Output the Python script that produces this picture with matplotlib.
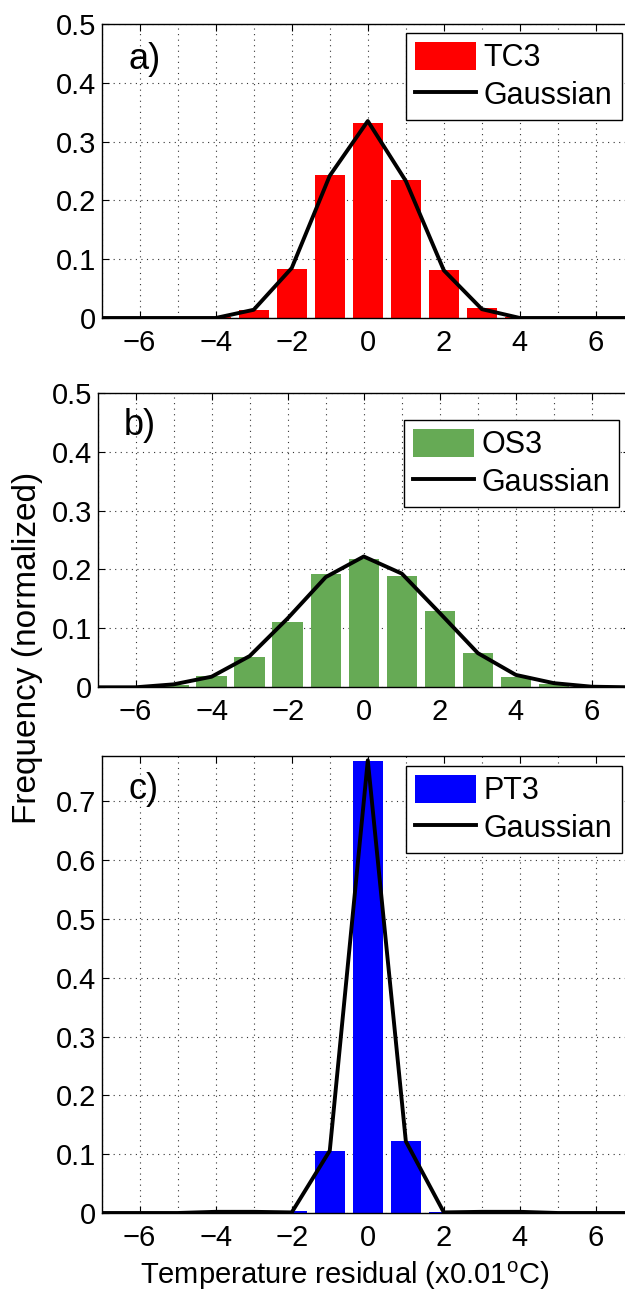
import numpy as np
import matplotlib
matplotlib.use("Agg")
import matplotlib.pyplot as plt
from matplotlib.ticker import MultipleLocator

plt.rcParams['font.family'] = ['Liberation Sans', 'DejaVu Sans']

# bins (x0.01 degC)
bins = [-7, -6, -5, -4, -3, -2, -1, 0, 1, 2, 3, 4, 5, 6, 7]

# a) TC3
tc3_hist = [0, 0, 0, 0.002, 0.013, 0.083, 0.243, 0.332, 0.235, 0.081, 0.017, 0.002, 0, 0, 0]
tc3_gauss = [0, 0, 0, 0.0, 0.014, 0.085, 0.242, 0.335, 0.233, 0.081, 0.015, 0.0, 0, 0, 0]

# b) OS3
os3_hist = [0, 0.001, 0.004, 0.020, 0.052, 0.111, 0.193, 0.218, 0.189, 0.130, 0.059, 0.018, 0.006, 0.001, 0]
os3_gauss = [0, 0.0, 0.005, 0.018, 0.053, 0.117, 0.187, 0.222, 0.193, 0.126, 0.058, 0.021, 0.007, 0.001, 0]

# c) PT3
pt3_hist = [0, 0, 0, 0, 0, 0.003, 0.106, 0.768, 0.122, 0.001, 0, 0, 0, 0, 0]
pt3_gauss = [0, 0, 0, 0.002, 0.002, 0.001, 0.106, 0.770, 0.122, 0.001, 0.002, 0.002, 0, 0, 0]

panels = [
    dict(hist=tc3_hist, gauss=tc3_gauss, name='TC3', color='#ff0000', tag='a)',
         ymax=0.5, yt=np.arange(0, 0.51, 0.1), box=[101.6, 24, 634, 318],
         leg=(0.977, 0.969), tagy=0.44),
    dict(hist=os3_hist, gauss=os3_gauss, name='OS3', color='#66aa55', tag='b)',
         ymax=0.5, yt=np.arange(0, 0.51, 0.1), box=[97.5, 392.7, 630, 687.3],
         leg=(0.98, 0.907), tagy=0.445),
    dict(hist=pt3_hist, gauss=pt3_gauss, name='PT3', color='#0000ff', tag='c)',
         ymax=0.778, yt=np.arange(0, 0.71, 0.1), box=[101.6, 755.6, 634, 1213],
         leg=(0.977, 0.977), tagy=0.72),
]

W, H = 625, 1295
fig = plt.figure(figsize=(W / 100, H / 100), dpi=100)

for p in panels:
    x0, y0, x1, y1 = p['box']
    ax = fig.add_axes([x0 / W, 1 - y1 / H, (x1 - x0) / W, (y1 - y0) / H])
    b = ax.bar(bins, p['hist'], width=0.8, color=p['color'], edgecolor='none', zorder=2)
    l, = ax.plot(bins, p['gauss'], color='k', lw=2.8, zorder=3)
    ax.set_xlim(-7, 7)
    ax.set_ylim(0, p['ymax'])
    ax.set_xticks([-6, -4, -2, 0, 2, 4, 6])
    ax.xaxis.set_minor_locator(MultipleLocator(1))
    ax.set_yticks(p['yt'])
    ax.set_yticklabels(['0'] + ['%.1f' % v for v in p['yt'][1:]])
    ax.grid(True, which='both', axis='x', ls=(0, (1, 4)), color='0.2', lw=0.8, zorder=0)
    ax.grid(True, which='major', axis='y', ls=(0, (1, 4)), color='0.2', lw=0.8, zorder=0)
    ax.tick_params(which='both', direction='in', top=True, right=True,
                   labelsize=21, width=0.8)
    ax.tick_params(which='major', length=5)
    ax.tick_params(which='minor', length=0)
    ax.tick_params(axis='x', pad=8)
    ax.tick_params(axis='y', pad=4)
    for s in ax.spines.values():
        s.set_linewidth(1.0)
    ax.text(-6.3, p['tagy'], p['tag'], fontsize=26, va='center', ha='left')
    leg = ax.legend([b, l], [p['name'], 'Gaussian'], loc='upper right',
                    bbox_to_anchor=p['leg'], fontsize=22,
                    handlelength=2.0, handleheight=1.0, handletextpad=0.25,
                    labelspacing=0.2, borderpad=0.3, borderaxespad=0,
                    fancybox=False, framealpha=1)
    leg.get_frame().set_edgecolor('k')
    leg.get_frame().set_linewidth(1.0)

fig.text(28 / W, 1 - 648 / H, 'Frequency (normalized)', rotation=90,
         fontsize=24, ha='center', va='center')
fig.text(345 / W, 1 - 1276 / H, 'Temperature residual (x0.01$^{\\mathregular{o}}$C)',
         fontsize=21, ha='center', va='center')

fig.savefig('out.png', dpi=100)
